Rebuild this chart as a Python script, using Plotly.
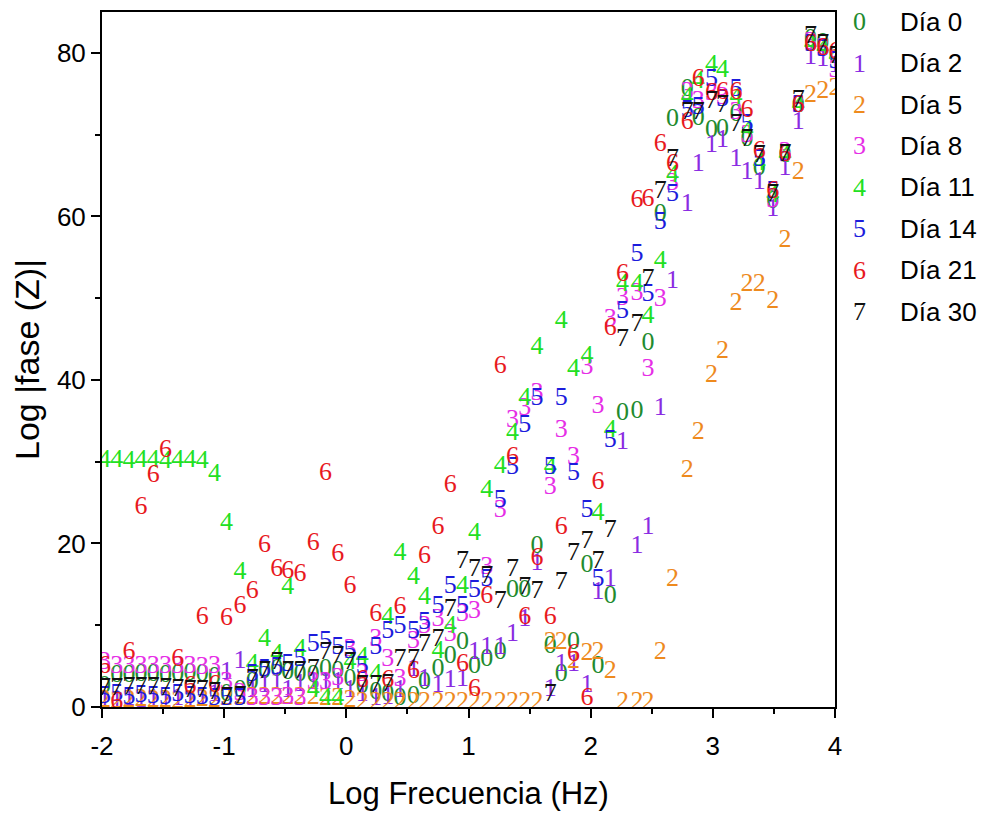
import plotly.graph_objects as go

# Shared log-frequency grid (decades)
log_freq = [-1.98, -1.88, -1.78, -1.68, -1.58, -1.48, -1.38, -1.28, -1.18, -1.08,
            -0.98, -0.87, -0.77, -0.67, -0.57, -0.48, -0.38, -0.27, -0.17, -0.07,
            0.03, 0.13, 0.24, 0.34, 0.44, 0.55, 0.64, 0.75, 0.85, 0.95,
            1.05, 1.15, 1.26, 1.36, 1.46, 1.56, 1.67, 1.76, 1.86, 1.97,
            2.06, 2.16, 2.26, 2.38, 2.47, 2.57, 2.67, 2.79, 2.88, 2.99,
            3.08, 3.19, 3.28, 3.38, 3.49, 3.59, 3.70, 3.80, 3.90, 4.00]

dia_0 = [2.5, 3.8, 3.9, 4.0, 4.0, 3.9, 4.0, 4.1, 4.0, 3.6,
         1.5, 2.0, 3.0, 4.3, 4.6, 4.2, 4.0, 3.9, 4.6, 4.4,
         3.4, 2.5, 1.8, 1.5, 1.0, 1.3, 3.0, 4.6, 6.2, 7.9,
         5.0, 5.8, 6.7, 14.3, 14.3, 19.6, 7.4, 4.0, 7.9, 17.3,
         5.0, 13.5, 35.9, 36.2, 44.5, 60.2, 71.9, 75.5, 72.0, 70.5,
         70.6, 72.5, 69.4, 65.8, 61.8, 67.5, 73.6, 81.6, 81.2, 79.5]

dia_2 = [0.8, 0.8, 1.0, 0.8, 0.9, 0.8, 1.0, 0.8, 1.0, 1.5,
         4.2, 5.6, 2.0, 2.6, 3.0, 2.0, 2.8, 3.0, 3.0, 3.0,
         2.0, 1.5, 1.0, 1.2, 2.0, 4.6, 3.4, 2.6, 3.2, 3.4,
         6.7, 7.3, 7.3, 8.9, 10.7, 17.6, 2.2, 5.2, 5.2, 2.6,
         14.0, 15.6, 32.3, 19.6, 21.9, 36.5, 52.0, 61.4, 66.4, 68.7,
         69.3, 67.0, 65.4, 64.2, 60.9, 65.8, 71.5, 79.4, 79.2, 78.4]

dia_5 = [0.8, 0.7, 0.8, 0.9, 0.8, 0.8, 0.7, 0.8, 0.9, 0.8,
         1.0, 1.2, 1.2, 1.2, 1.2, 1.2, 1.2, 1.2, 1.0, 1.0,
         0.8, 0.6, 0.6, 0.6, 0.6, 0.5, 0.5, 0.5, 0.5, 0.5,
         0.5, 0.5, 0.5, 0.5, 0.5, 0.5, 7.9, 7.9, 5.6, 6.5,
         6.7, 4.3, 0.6, 0.5, 0.6, 6.7, 15.6, 28.9, 33.6, 40.5,
         43.5, 49.4, 51.7, 51.7, 49.6, 57.1, 65.4, 74.8, 75.3, 75.6]

dia_8 = [5.5, 5.0, 4.9, 5.0, 4.9, 5.0, 4.9, 5.0, 4.8, 4.9,
         3.0, 1.6, 1.0, 1.0, 1.0, 1.2, 1.0, 3.0, 3.0, 3.5,
         7.0, 4.0, 8.3, 5.8, 3.4, 8.0, 9.8, 10.7, 8.9, 11.3,
         11.7, 17.1, 24.0, 35.0, 36.5, 38.3, 26.9, 33.8, 30.5, 41.5,
         36.8, 47.4, 50.0, 50.6, 41.3, 49.8, 64.0, 75.1, 74.0, 75.0,
         74.5, 72.7, 69.9, 67.0, 62.0, 67.8, 73.6, 81.3, 80.5, 77.8]

dia_11 = [30.1, 30.2, 30.0, 30.1, 30.2, 30.0, 30.1, 30.1, 30.0, 28.4,
          22.5, 16.5, 5.2, 8.3, 6.4, 14.6, 7.0, 2.0, 1.0, 1.0,
          5.5, 6.0, 4.0, 11.0, 18.8, 15.8, 13.4, 6.8, 9.9, 14.7,
          21.2, 26.5, 29.4, 33.5, 37.7, 44.0, 29.3, 47.2, 41.3, 42.9,
          23.7, 33.8, 51.7, 51.7, 47.8, 54.5, 65.0, 74.5, 76.5, 78.4,
          77.8, 74.5, 70.5, 66.5, 62.5, 67.5, 73.6, 81.0, 80.5, 79.5]

dia_14 = [1.3, 1.5, 1.2, 1.4, 1.3, 1.2, 1.5, 1.3, 1.2, 1.0,
          1.0, 1.0, 4.0, 4.6, 4.8, 5.2, 5.8, 7.7, 8.0, 7.3,
          6.8, 4.9, 7.3, 9.2, 9.8, 9.2, 10.3, 12.3, 14.7, 12.3,
          14.3, 15.6, 25.3, 29.3, 34.4, 37.7, 29.3, 37.7, 28.6, 24.0,
          15.6, 32.6, 48.4, 55.3, 50.5, 59.3, 62.7, 73.0, 73.3, 76.7,
          74.3, 75.5, 71.2, 67.0, 63.0, 67.6, 73.6, 81.0, 80.4, 79.0]

dia_21 = [5.0, 0.5, 6.7, 24.4, 28.3, 31.4, 5.8, 2.5, 11.0, 2.6,
          10.8, 12.3, 14.1, 19.8, 16.8, 16.6, 16.2, 20.0, 28.6, 18.6,
          14.7, 3.2, 11.3, 3.2, 12.2, 4.3, 18.4, 21.9, 27.1, 5.2,
          2.2, 13.5, 41.7, 30.5, 10.9, 18.2, 10.9, 22.0, 6.4, 1.0,
          27.5, 46.3, 52.9, 62.0, 62.1, 68.8, 66.3, 71.5, 76.7, 75.0,
          75.1, 75.1, 72.9, 68.0, 63.0, 67.6, 73.6, 81.0, 80.5, 80.0]

dia_30 = [2.3, 2.3, 2.4, 2.4, 2.4, 2.3, 2.1, 2.0, 2.0, 1.8,
          1.2, 1.3, 3.4, 4.4, 5.5, 4.4, 4.4, 4.6, 6.7, 6.2,
          5.4, 2.6, 2.6, 2.8, 5.8, 5.8, 7.7, 8.3, 11.9, 17.8,
          16.8, 16.0, 12.9, 16.8, 14.6, 14.1, 1.5, 15.2, 18.8, 20.2,
          17.8, 21.6, 45.0, 46.8, 52.3, 63.0, 67.0, 72.7, 72.7, 74.0,
          73.6, 71.2, 69.4, 67.5, 62.7, 67.6, 74.2, 82.0, 81.0, 79.5]

series_names = ["Día 0", "Día 2", "Día 5", "Día 8", "Día 11", "Día 14", "Día 21", "Día 30"]
series_symbols = ["0", "1", "2", "3", "4", "5", "6", "7"]
series_values = [dia_0, dia_2, dia_5, dia_8, dia_11, dia_14, dia_21, dia_30]
series_colors = ["#228b2e", "#8a2be2", "#ee8a1e", "#e62ee6", "#22e022", "#1c1cdc", "#e8191e", "#111111"]

x_ticks = [-2, -1, 0, 1, 2, 3, 4]
y_ticks = [0, 20, 40, 60, 80]

SERIF = "Liberation Serif, Times New Roman, serif"
SANS = "Liberation Sans, Arial, sans-serif"

fig = go.Figure()
for name, sym, col, ys in zip(series_names, series_symbols, series_colors, series_values):
    fig.add_trace(go.Scatter(
        x=log_freq, y=ys, mode="text", text=[sym] * len(ys),
        textposition="middle center",
        textfont=dict(family=SERIF, size=26, color=col),
        name=name, showlegend=False,
    ))

# Custom legend (digit marker + label)
leg_top = 0.986
leg_step = 0.0596
for i, (name, sym, col) in enumerate(zip(series_names, series_symbols, series_colors)):
    yy = leg_top - i * leg_step
    fig.add_annotation(xref="paper", yref="paper", x=1.034, y=yy, text=sym,
                       showarrow=False, xanchor="center", yanchor="middle",
                       font=dict(family=SERIF, size=26, color=col))
    fig.add_annotation(xref="paper", yref="paper", x=1.086, y=yy, text=name,
                       showarrow=False, xanchor="left", yanchor="middle",
                       font=dict(family=SANS, size=26, color="black"))

fig.update_layout(
    width=970, height=803,
    margin=dict(l=94, r=143, t=2, b=103),
    paper_bgcolor="white", plot_bgcolor="white",
    showlegend=False,
    xaxis=dict(
        range=[-2, 4], tickvals=x_ticks, ticktext=[str(v) for v in x_ticks],
        ticks="outside", ticklen=9, tickwidth=2, tickcolor="black",
        showline=True, linewidth=2, linecolor="black", mirror=True,
        showgrid=False, zeroline=False, ticklabelstandoff=6,
        minor=dict(dtick=0.5, ticks="outside", ticklen=5, tickwidth=2, tickcolor="black", showgrid=False),
        tickfont=dict(family=SANS, size=26, color="black"),
        title=dict(text="Log Frecuencia (Hz)", font=dict(family=SANS, size=31, color="black"), standoff=26),
    ),
    yaxis=dict(
        range=[0, 85], tickvals=y_ticks, ticktext=[str(v) for v in y_ticks],
        ticks="outside", ticklen=9, tickwidth=2, tickcolor="black",
        showline=True, linewidth=2, linecolor="black", mirror=True,
        showgrid=False, zeroline=False,
        minor=dict(dtick=10, ticks="outside", ticklen=5, tickwidth=2, tickcolor="black", showgrid=False),
        tickfont=dict(family=SANS, size=26, color="black"),
        title=dict(text="Log |fase (Z)|", font=dict(family=SANS, size=34, color="black"), standoff=12),
    ),
)

fig.write_html("out.html")
